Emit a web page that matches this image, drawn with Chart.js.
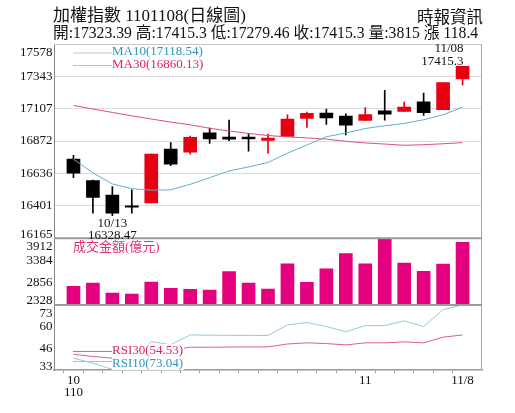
<!DOCTYPE html>
<html><head><meta charset="utf-8">
<script src="https://cdn.jsdelivr.net/npm/chart.js@4.4.1/dist/chart.umd.min.js"></script>
<style>
html,body{margin:0;padding:0;background:#fff;}
#wrap{position:relative;width:515px;height:413px;overflow:hidden;}
#c{position:absolute;left:0;top:0;}
.t{position:absolute;white-space:nowrap;font-family:"Liberation Serif","Noto Sans CJK TC",serif;color:#111;line-height:1;}
</style></head><body>
<div id="wrap">
<canvas id="c" width="515" height="413"></canvas>
<div class="t" style="left:53px;top:7px;font-size:17px;">加權指數 1101108(日線圖)</div>
<div class="t" style="right:32px;top:10px;font-size:16.5px;">時報資訊</div>
<div class="t" style="left:53px;top:25px;font-size:15.7px;">開:17323.39 高:17415.3 低:17279.46 收:17415.3 量:3815 漲 118.4</div>
</div>
<script>
// ---- data ----
const dates = ['10/08','10/12','10/13','10/14','10/15','10/18','10/19','10/20','10/21','10/22','10/25','10/26','10/27','10/28','10/29','11/01','11/02','11/03','11/04','11/05','11/08'];
const opens  = [16740,16585,16478,16393,16422,16813,16791,16932,16901,16900,16876,16905,17036,17075,17054,17022,17092,17087,17158,17100,17323.39];
const highs  = [16767,16588,16541,16517,16777,16861,16908,16966,17024,16927,16922,17063,17083,17105,17070,17116,17240,17156,17221,17297,17415.3];
const lows   = [16606,16347,16328.47,16347,16422,16692,16777,16854,16874,16799,16784,16905,16971,16992,16917,17022,17024,17087,17058,17100,17279.46];
const closes = [16638,16461,16347,16390,16777,16704,16898,16888,16886,16887,16893,17032,17073,17041,16988,17065,17068,17119,17078,17296.9,17415.3];
const volumes = [2768,2848,2608,2585,2872,2720,2696,2680,3120,2848,2705,3304,2864,3184,3544,3304,3905,3320,3128,3296,3815];
const ma10 = [16740,16640,16560,16525,16514,16517,16557,16605,16655,16683,16716,16784,16843,16903,16930,16963,16983,17000,17027,17063,17118.54];
const ma30 = [17131,17105,17080,17055,17032,17010,16990,16965,16945,16927,16912,16902,16895,16886,16870,16858,16850,16841,16845,16852,16860.13];
const rsi10 = [40.3,37.2,33.4,35.5,50.5,48.5,54.6,54.4,54.3,54.3,54.25,60.7,62.2,59.7,56.5,60.3,60.3,63.2,59.7,70.1,73.04];
const rsi30 = [42.6,41.3,40.3,40.6,44.5,45.0,47.0,47.0,47.1,47.2,47.2,49.0,49.7,49.25,48.4,49.7,49.7,50.3,49.7,53.2,54.53];
const priceTicks = [16165,16401,16636,16872,17107,17343,17578];
const volumeTicks = [2328,2856,3384,3912];
const rsiTicks = [33,46,60,73];
const xTickDates = ['10/08','11/01','11/08'];
const xTickLabels = [['10','110'],'11','11/8'];

// ---- styles ----
const RED = '#e60012', BLACK = '#000000', VOL = '#e4007f';
const MA10C = '#5eb0cc', MA30C = '#d9507f', MA10T = '#2f97c2', MA30T = '#d4246a';
const RSI10C = '#93c8da', RSI30C = '#d9608a';
const FONT = '"Liberation Serif", "Noto Sans CJK TC", serif';

const pad = a => [null, ...a, null];
const labels = ['', ...dates, ''];
const candleColors = closes.map((c,i) => c >= opens[i] ? RED : BLACK);

const overlay = {
  id: 'overlay',
  afterDraw(chart) {
    const ctx = chart.ctx, ca = chart.chartArea, S = chart.scales;
    const xs = S.x, ys = S.y, yv = S.yv, yr = S.yr;
    ctx.save();
    // frame lines
    ctx.strokeStyle = '#c8c8c8'; ctx.lineWidth = 1;
    ctx.beginPath(); ctx.moveTo(ca.left, ca.top + 0.5); ctx.lineTo(ca.right, ca.top + 0.5); ctx.stroke();
    ctx.strokeStyle = '#a8a8a8';
    ctx.beginPath(); ctx.moveTo(ca.right - 0.5, ca.top); ctx.lineTo(ca.right - 0.5, ca.bottom); ctx.stroke();
    ctx.strokeStyle = '#9a9a9a'; ctx.lineWidth = 2;
    [ys.bottom, yv.bottom].forEach(yy => {
      ctx.beginPath(); ctx.moveTo(ca.left, yy); ctx.lineTo(ca.right, yy); ctx.stroke();
    });
    // y tick labels
    ctx.fillStyle = '#111'; ctx.font = '13px ' + FONT; ctx.textAlign = 'right';
    [[ys, priceTicks], [yv, volumeTicks], [yr, rsiTicks]].forEach(([s, tk]) => {
      tk.forEach(v => {
        const py = s.getPixelForValue(v);
        let y = py;
        if (v === tk[tk.length - 1]) { ctx.textBaseline = 'top'; y = py + 2; }
        else if (v === tk[0]) { ctx.textBaseline = 'alphabetic'; y = py - 0.5; }
        else { ctx.textBaseline = 'middle'; }
        ctx.fillText(String(v), s.right - 1.5, y);
      });
    });
    // legends
    const lx0 = ca.left + 19, lx1 = ca.left + 58;
    const legend = (y, lineY, color, tcolor, text, bg) => {
      ctx.strokeStyle = color; ctx.lineWidth = 1;
      ctx.beginPath(); ctx.moveTo(lx0, lineY); ctx.lineTo(lx1, lineY); ctx.stroke();
      ctx.font = '13px ' + FONT; ctx.textAlign = 'left'; ctx.textBaseline = 'middle';
      if (bg) {
        const w = ctx.measureText(text).width;
        ctx.fillStyle = '#fff'; ctx.fillRect(lx1, y - 7, w + 1, 13);
      }
      ctx.fillStyle = tcolor; ctx.fillText(text, lx1, y);
    };
    legend(ca.top + 8, ca.top + 9, '#b9c9cf', MA10T, 'MA10(' + ma10[ma10.length-1].toFixed(2) + ')', false);
    legend(ca.top + 21, ca.top + 21.5, '#d8b3c0', MA30T, 'MA30(' + ma30[ma30.length-1].toFixed(2) + ')', false);
    legend(yr.top + 46, yr.top + 46.5, RSI30C, MA30T, 'RSI30(' + rsi30[rsi30.length-1].toFixed(2) + ')', true);
    legend(yr.top + 59, yr.top + 56.5, RSI10C, MA10T, 'RSI10(' + rsi10[rsi10.length-1].toFixed(2) + ')', true);
    // volume title
    ctx.fillStyle = '#e0307a'; ctx.font = '13px ' + FONT; ctx.textAlign = 'left'; ctx.textBaseline = 'middle';
    ctx.fillText('成交金額(億元)', ca.left + 19, yv.top + 9);
    // low annotation
    let im = 0; lows.forEach((l, i) => { if (l < lows[im]) im = i; });
    const xm = xs.getPixelForValue(im + 1), ym = ys.getPixelForValue(lows[im]);
    ctx.fillStyle = '#111'; ctx.textAlign = 'center'; ctx.textBaseline = 'top';
    ctx.fillText(dates[im], xm, ym + 1);
    ctx.fillText(lows[im].toFixed(2), xm, ym + 13.5);
    // last annotation
    const il = dates.length - 1;
    const xl = xs.getPixelForValue(il + 1), yl = ys.getPixelForValue(highs[il]);
    ctx.textAlign = 'right'; ctx.textBaseline = 'alphabetic';
    ctx.fillText(String(highs[il]), xl + 1, yl - 1.5);
    ctx.fillText(dates[il], xl + 1, yl - 14.5);
    ctx.restore();
  }
};

new Chart(document.getElementById('c'), {
  data: {
    labels,
    datasets: [
      { type: 'line', data: pad(ma10), borderColor: MA10C, borderWidth: 1, pointRadius: 0, yAxisID: 'y', order: 0 },
      { type: 'line', data: pad(ma30), borderColor: MA30C, borderWidth: 1, pointRadius: 0, yAxisID: 'y', order: 0 },
      { type: 'bar', data: pad(opens.map((o,i) => [o, closes[i]])), backgroundColor: pad(candleColors), barThickness: 13, minBarLength: 1.5, grouped: false, yAxisID: 'y', order: 1 },
      { type: 'bar', data: pad(lows.map((l,i) => [l, highs[i]])), backgroundColor: pad(candleColors), barThickness: 1, grouped: false, yAxisID: 'y', order: 2 },
      { type: 'bar', data: pad(volumes.map(v => [volumeTicks[0], v])), backgroundColor: VOL, barThickness: 13, grouped: false, yAxisID: 'yv', order: 1 },
      { type: 'line', data: pad(rsi10), borderColor: RSI10C, borderWidth: 1, pointRadius: 0, yAxisID: 'yr', order: 0 },
      { type: 'line', data: pad(rsi30), borderColor: RSI30C, borderWidth: 1, pointRadius: 0, yAxisID: 'yr', order: 0 }
    ]
  },
  options: {
    responsive: false,
    animation: false,
    events: [],
    layout: { padding: { top: 44, right: 33, left: 0, bottom: 0 } },
    plugins: { legend: { display: false }, tooltip: { enabled: false } },
    scales: {
      x: {
        type: 'category', offset: false,
        grid: { display: true, drawOnChartArea: false, drawTicks: true, tickLength: 3,
                color: c => (c.index === 0 || c.index === labels.length - 1) ? 'rgba(0,0,0,0)' : '#999' },
        border: { display: true, color: '#999', width: 1.5 },
        ticks: { autoSkip: false, maxRotation: 0, minRotation: 0, padding: 1, color: '#111',
                 font: { family: FONT, size: 13, lineHeight: 0.95 },
                 callback(v) { const k = xTickDates.indexOf(this.getLabelForValue(v)); return k >= 0 ? xTickLabels[k] : ''; } },
        afterFit(s) { s.height = 43; }
      },
      y: {
        type: 'linear', position: 'left', stack: 'panels', stackWeight: 194, weight: 3,
        min: priceTicks[0], max: priceTicks[priceTicks.length - 1],
        afterBuildTicks(s) { s.ticks = priceTicks.map(v => ({ value: v })); },
        ticks: { display: false },
        grid: { color: '#dcdcdc', drawTicks: false, tickLength: 0 },
        border: { color: '#888', width: 1 },
        afterFit(s) { s.width = 54; }
      },
      yv: {
        type: 'linear', position: 'left', stack: 'panels', stackWeight: 66.7, weight: 2,
        min: volumeTicks[0], max: volumeTicks[volumeTicks.length - 1],
        afterBuildTicks(s) { s.ticks = volumeTicks.map(v => ({ value: v })); },
        ticks: { display: false },
        grid: { display: false },
        border: { color: '#888', width: 1 },
        afterFit(s) { s.width = 54; }
      },
      yr: {
        type: 'linear', position: 'left', stack: 'panels', stackWeight: 65, weight: 1,
        min: rsiTicks[0], max: rsiTicks[rsiTicks.length - 1],
        afterBuildTicks(s) { s.ticks = rsiTicks.map(v => ({ value: v })); },
        ticks: { display: false },
        grid: { display: false },
        border: { color: '#888', width: 1 },
        afterFit(s) { s.width = 54; }
      }
    }
  },
  plugins: [overlay]
});
</script>
</body></html>
